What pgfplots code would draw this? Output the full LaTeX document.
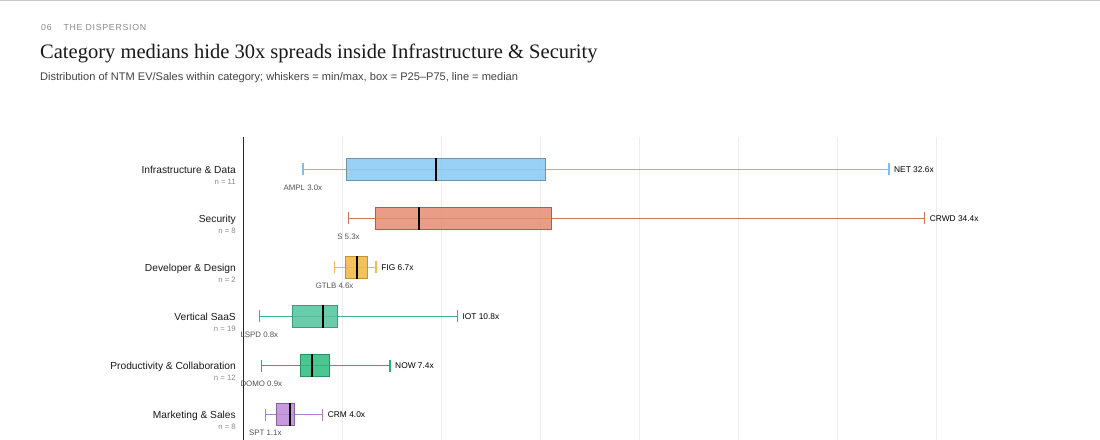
\documentclass[border=0pt]{standalone}
\usepackage{fontspec}
\setmainfont{Liberation Sans}
\newfontfamily\seriffont{Liberation Serif}
\newfontfamily\kickerfont[LetterSpace=8]{Liberation Sans}
\usepackage{pgfplots}
\pgfplotsset{compat=1.18}

\definecolor{infraFill}{HTML}{86C9F3}
\definecolor{infraBorder}{HTML}{6F93AE}
\definecolor{infraLine}{HTML}{7DBFEC}
\definecolor{secFill}{HTML}{E68B73}
\definecolor{secBorder}{HTML}{A8604F}
\definecolor{secLine}{HTML}{D0735C}
\definecolor{devFill}{HTML}{F2B840}
\definecolor{devBorder}{HTML}{C2942F}
\definecolor{devLine}{HTML}{EDB955}
\definecolor{vsFill}{HTML}{52C49E}
\definecolor{vsBorder}{HTML}{3E9B7D}
\definecolor{vsLine}{HTML}{3DAF89}
\definecolor{prFill}{HTML}{2CBB80}
\definecolor{prBorder}{HTML}{26935F}
\definecolor{prLine}{HTML}{29AE78}
\definecolor{mkFill}{HTML}{BE88D8}
\definecolor{mkBorder}{HTML}{8C60A6}
\definecolor{mkLine}{HTML}{AE7DCB}
\definecolor{kicker}{HTML}{8A8A8A}
\definecolor{subtxt}{HTML}{444444}
\definecolor{ngray}{HTML}{8C8C8C}
\definecolor{minlab}{HTML}{555555}

\tikzset{
  catlab/.style={anchor=base east, inner sep=0pt, xshift=-7.5bp, yshift=-3.7bp, font=\fontsize{10.25}{11}\selectfont, text=black!90},
  nlab/.style={anchor=base east, inner sep=0pt, xshift=-7.5bp, yshift=-15.3bp, font=\fontsize{7.8}{9}\selectfont, text=ngray},
  maxlab/.style={anchor=base west, inner sep=0pt, xshift=5bp, yshift=-3.1bp, font=\fontsize{8.4}{9}\selectfont, text=black},
  minlabel/.style={anchor=base, inner sep=0pt, yshift=-21bp, font=\fontsize{7.9}{9}\selectfont, text=minlab},
}
\pgfplotsset{
  whisk/.style={draw=#1, line width=1.4bp},
  caps/.style={only marks, mark=|, mark size=6bp, mark options={draw=#1, line width=1.4bp}},
  boxst/.style 2 args={fill=#1, fill opacity=0.85, draw=#2, line width=0.8bp},
  med/.style={draw=black, line width=1.8bp},
}

\begin{document}
\begin{tikzpicture}
% page: left = -243.5bp, right = 856.5bp, top = 447bp, bottom = 7bp (axis box: x 0..712.8bp, y 0..310bp)
\fill[white] (-243.5bp,447bp) rectangle (856.5bp,7bp);
\begin{axis}[
  scale only axis, width=712.8bp, height=310bp,
  xmin=0, xmax=36, ymin=-0.663, ymax=5.663,
  clip=false,
  axis x line=bottom, axis y line=left,
  x axis line style={draw=none},
  y axis line style={-, draw=black!85, line width=1bp},
  xtick={5,10,...,35}, xticklabels={}, ytick=\empty,
  major tick length=0pt,
  xmajorgrids, grid style={color=black!7, line width=0.9bp},
]
% Infrastructure & Data: min 3.0, P25 5.22, median 9.74, P75 15.24, max 32.6
\addplot[whisk=infraLine] coordinates {(3.0,5) (32.6,5)};
\addplot[caps=infraLine] coordinates {(3.0,5) (32.6,5)};
\addplot[boxst={infraFill}{infraBorder}] coordinates {(5.22,4.775) (15.24,4.775) (15.24,5.225) (5.22,5.225)} -- cycle;
\addplot[med] coordinates {(9.74,4.775) (9.74,5.225)};
% Security: min 5.3, P25 6.66, median 8.86, P75 15.55, max 34.4
\addplot[whisk=secLine] coordinates {(5.3,4) (34.4,4)};
\addplot[caps=secLine] coordinates {(5.3,4) (34.4,4)};
\addplot[boxst={secFill}{secBorder}] coordinates {(6.66,3.775) (15.55,3.775) (15.55,4.225) (6.66,4.225)} -- cycle;
\addplot[med] coordinates {(8.86,3.775) (8.86,4.225)};
% Developer & Design: min 4.6, P25 5.14, median 5.75, P75 6.24, max 6.7
\addplot[whisk=devLine] coordinates {(4.6,3) (6.7,3)};
\addplot[caps=devLine] coordinates {(4.6,3) (6.7,3)};
\addplot[boxst={devFill}{devBorder}] coordinates {(5.14,2.775) (6.24,2.775) (6.24,3.225) (5.14,3.225)} -- cycle;
\addplot[med] coordinates {(5.75,2.775) (5.75,3.225)};
% Vertical SaaS: min 0.8, P25 2.45, median 4.03, P75 4.74, max 10.8
\addplot[whisk=vsLine] coordinates {(0.8,2) (10.8,2)};
\addplot[caps=vsLine] coordinates {(0.8,2) (10.8,2)};
\addplot[boxst={vsFill}{vsBorder}] coordinates {(2.45,1.775) (4.74,1.775) (4.74,2.225) (2.45,2.225)} -- cycle;
\addplot[med] coordinates {(4.03,1.775) (4.03,2.225)};
% Productivity & Collaboration: min 0.9, P25 2.85, median 3.44, P75 4.35, max 7.4
\addplot[whisk=prLine] coordinates {(0.9,1) (7.4,1)};
\addplot[caps=prLine] coordinates {(0.9,1) (7.4,1)};
\addplot[boxst={prFill}{prBorder}] coordinates {(2.85,0.775) (4.35,0.775) (4.35,1.225) (2.85,1.225)} -- cycle;
\addplot[med] coordinates {(3.44,0.775) (3.44,1.225)};
% Marketing & Sales: min 1.1, P25 1.64, median 2.33, P75 2.55, max 4.0
\addplot[whisk=mkLine] coordinates {(1.1,0) (4.0,0)};
\addplot[caps=mkLine] coordinates {(1.1,0) (4.0,0)};
\addplot[boxst={mkFill}{mkBorder}] coordinates {(1.64,-0.225) (2.55,-0.225) (2.55,0.225) (1.64,0.225)} -- cycle;
\addplot[med] coordinates {(2.33,-0.225) (2.33,0.225)};

% category labels
\node[catlab] at (axis cs:0,5) {Infrastructure \& Data};
\node[nlab] at (axis cs:0,5) {n = 11};
\node[catlab] at (axis cs:0,4) {Security};
\node[nlab] at (axis cs:0,4) {n = 8};
\node[catlab] at (axis cs:0,3) {Developer \& Design};
\node[nlab] at (axis cs:0,3) {n = 2};
\node[catlab] at (axis cs:0,2) {Vertical SaaS};
\node[nlab] at (axis cs:0,2) {n = 19};
\node[catlab] at (axis cs:0,1) {Productivity \& Collaboration};
\node[nlab] at (axis cs:0,1) {n = 12};
\node[catlab] at (axis cs:0,0) {Marketing \& Sales};
\node[nlab] at (axis cs:0,0) {n = 8};

% max labels
\node[maxlab] at (axis cs:32.6,5) {NET 32.6x};
\node[maxlab] at (axis cs:34.4,4) {CRWD 34.4x};
\node[maxlab] at (axis cs:6.7,3) {FIG 6.7x};
\node[maxlab] at (axis cs:10.8,2) {IOT 10.8x};
\node[maxlab] at (axis cs:7.4,1) {NOW 7.4x};
\node[maxlab] at (axis cs:4.0,0) {CRM 4.0x};
% min labels
\node[minlabel] at (axis cs:3.0,5) {AMPL 3.0x};
\node[minlabel] at (axis cs:5.3,4) {S 5.3x};
\node[minlabel] at (axis cs:4.6,3) {GTLB 4.6x};
\node[minlabel] at (axis cs:0.8,2) {LSPD 0.8x};
\node[minlabel] at (axis cs:0.9,1) {DOMO 0.9x};
\node[minlabel] at (axis cs:1.1,0) {SPT 1.1x};
\end{axis}
\draw[line width=1.5bp, color=black!22] (-243.5bp,446.25bp) -- (856.5bp,446.25bp);
\node[anchor=base west, inner sep=0pt, text=kicker, font=\kickerfont\fontsize{8.8}{9}\selectfont] at (-202.5bp,416.7bp) {06\hspace{12bp}THE DISPERSION};
\node[anchor=base west, inner sep=0pt, text=black!90, font=\seriffont\fontsize{20.6}{22}\selectfont] at (-203.5bp,388.7bp) {Category medians hide 30x spreads inside Infrastructure \& Security};
\node[anchor=base west, inner sep=0pt, text=subtxt, font=\fontsize{11.1}{12}\selectfont] at (-203.5bp,366.7bp) {Distribution of NTM EV/Sales within category; whiskers = min/max, box = P25--P75, line = median};
\pgfresetboundingbox
\path[use as bounding box] (-243.5bp,447bp) rectangle (856.5bp,7bp);
\end{tikzpicture}
\end{document}
